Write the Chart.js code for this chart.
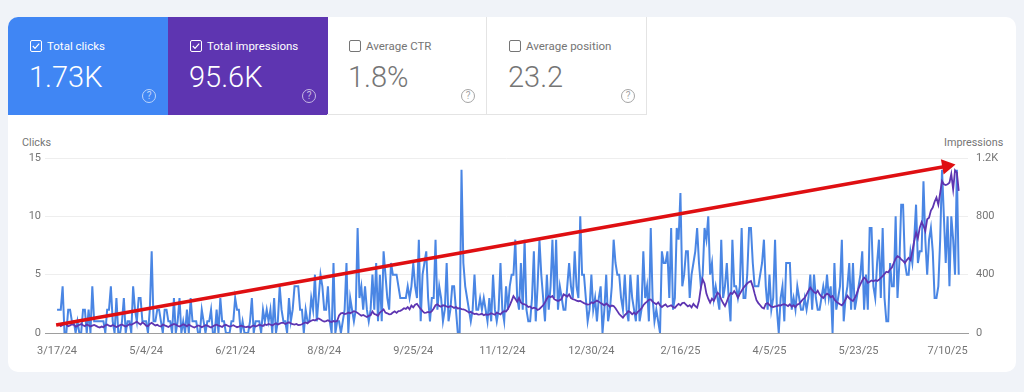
<!DOCTYPE html>
<html>
<head>
<meta charset="utf-8">
<title>Search performance</title>
<script src="https://cdn.jsdelivr.net/npm/chart.js@4/dist/chart.umd.min.js"></script>
<style>
  html, body { margin: 0; padding: 0; }
  body { width: 1024px; height: 392px; background: #f0f3f8; overflow: hidden; font-family: Roboto, sans-serif; position: relative; }
  #card { position: absolute; left: 8px; top: 17px; width: 1008px; height: 355px; background: #fff; border-radius: 10px; overflow: hidden; }
  .tab { position: absolute; top: 0; width: 160px; height: 98px; box-sizing: border-box; color: #757575; }
  .tab.plain { border-right: 1px solid #e4e4e4; border-bottom: 1px solid #e4e4e4; }
  .tab.blue { background: #4086f4; color: #fff; }
  .tab.purple { background: #5e35b1; color: #fff; }
  .tab .name { position: absolute; left: 39px; top: 22px; font-size: 11.5px; line-height: 14px; white-space: nowrap; }
  .tab .val { position: absolute; left: 21px; top: 42px; font-size: 29px; line-height: 36px; font-weight: 300; white-space: nowrap; }
  .tab svg.box { position: absolute; left: 22px; top: 23px; }
  .tab .help { position: absolute; left: 134px; top: 72px; width: 12px; height: 12px; border: 1px solid currentColor; border-radius: 50%; font-size: 10px; line-height: 12px; text-align: center; opacity: .65; }
  .axis-title { position: absolute; top: 136px; font-size: 10.8px; line-height: 13px; color: #757575; }
  #wrap { position: absolute; left: 7px; top: 126px; width: 1009px; height: 240px; }
</style>
</head>
<body>
<div id="card">
  <div class="tab blue" style="left:0">
    <svg class="box" width="12" height="12" viewBox="0 0 12 12"><rect x=".5" y=".5" width="11" height="11" rx="1.5" fill="none" stroke="#fff"/><path d="M2.8 6l2.2 2.3 4.2-4.6" fill="none" stroke="#fff" stroke-width="1.2"/></svg>
    <div class="name">Total clicks</div><div class="val">1.73K</div><div class="help">?</div>
  </div>
  <div class="tab purple" style="left:160px">
    <svg class="box" width="12" height="12" viewBox="0 0 12 12"><rect x=".5" y=".5" width="11" height="11" rx="1.5" fill="none" stroke="#fff"/><path d="M2.8 6l2.2 2.3 4.2-4.6" fill="none" stroke="#fff" stroke-width="1.2"/></svg>
    <div class="name">Total impressions</div><div class="val">95.6K</div><div class="help">?</div>
  </div>
  <div class="tab plain" style="left:319px">
    <svg class="box" width="12" height="12" viewBox="0 0 12 12"><rect x=".5" y=".5" width="11" height="11" rx="1.5" fill="none" stroke="#757575"/></svg>
    <div class="name">Average CTR</div><div class="val">1.8%</div><div class="help">?</div>
  </div>
  <div class="tab plain" style="left:479px">
    <svg class="box" width="12" height="12" viewBox="0 0 12 12"><rect x=".5" y=".5" width="11" height="11" rx="1.5" fill="none" stroke="#757575"/></svg>
    <div class="name">Average position</div><div class="val">23.2</div><div class="help">?</div>
  </div>
</div>
<div class="axis-title" style="left:22px">Clicks</div>
<div class="axis-title" style="left:944px">Impressions</div>
<div id="wrap"><canvas id="chart" width="1009" height="240"></canvas></div>

<script>
const dateTicks = ['3/17/24', '5/4/24', '6/21/24', '8/8/24', '9/25/24', '11/12/24', '12/30/24', '2/16/25', '4/5/25', '5/23/25', '7/10/25'];
const clickTicks = ['0', '5', '10', '15'];
const impressionTicks = ['0', '400', '800', '1.2K'];

// one value per day
const clicks = [
  2,2,2,4,0,0,2,2,1,1,0,1,0,0,2,2,0,2,0,4,
  1,1,1,1,1,1,0,2,2,4,1,0,3,0,0,1,3,0,1,1,0,
  4,2,1,3,3,1,1,1,0,2,7,1,1,2,2,1,0,2,2,1,
  1,0,3,0,1,3,0,1,0,2,0,3,1,1,1,0,0,2,1,0,
  1,1,2,0,0,2,0,3,1,1,0,0,0,1,1,3,2,2,0,1,
  0,0,0,1,3,0,1,1,1,0,2,1,2,1,2,0,3,0,1,4,
  2,1,1,0,3,1,2,4,4,4,2,2,0,2,1,1,3,2,5,1,
  3,5,4,2,2,4,1,0,6,0,1,1,0,1,2,6,0,3,2,1,2,
  9,3,4,2,4,2,1,2,5,2,6,1,5,1,7,5,3,2,6,5,
  5,5,4,3,3,3,3,4,3,4,6,4,3,8,1,5,6,7,3,1,
  3,3,8,2,4,3,1,2,6,1,2,4,4,2,0,0,14,6,4,3,2,
  1,2,5,2,2,3,2,3,2,1,3,1,5,2,1,2,6,2,1,4,
  2,4,5,5,8,3,2,6,2,8,2,1,1,3,7,1,4,8,5,3,
  1,5,2,4,8,3,8,2,4,3,2,2,4,6,4,3,7,4,3,10,
  5,5,3,1,2,5,2,3,1,3,4,0,2,5,1,2,4,8,6,5,
  5,3,2,5,2,1,5,3,2,1,5,1,2,7,3,4,1,9,3,1,2,
  1,0,7,6,6,7,3,9,2,3,9,8,12,4,5,7,7,3,5,6,
  7,9,6,4,5,9,8,10,5,6,3,4,3,2,8,3,4,6,3,1,
  8,4,4,3,4,9,3,3,5,9,9,6,4,4,4,5,6,8,4,2,
  5,2,3,8,2,0,3,4,1,6,6,6,2,3,2,4,3,2,2,3,2,
  3,5,2,5,3,2,2,3,4,3,5,3,4,0,6,2,3,4,8,1,
  3,4,6,2,6,2,3,4,5,7,2,5,2,9,9,4,3,6,8,3,
  9,3,1,1,6,4,4,10,3,6,11,11,6,5,5,7,6,8,11,6,7,
  7,13,8,5,8,9,7,3,3,4,8,14,10,6,10,4,10,8,5,14,
  5
];

const impressions = [
  50,62,48,55,64,58,46,52,60,57,44,49,56,61,53,47,58,52,45,50,
  55,49,42,38,44,40,52,58,50,46,55,48,41,47,54,59,50,45,52,60,
  56,63,70,78,66,58,72,64,50,46,62,70,60,52,56,48,44,58,52,47,
  41,50,56,62,57,50,44,52,60,54,46,58,50,43,38,44,52,48,40,46,
  54,50,44,38,46,52,58,50,47,41,52,56,50,44,48,53,46,40,44,50,
  47,42,40,44,37,46,52,44,50,56,52,48,60,55,62,58,52,60,66,58,
  64,70,70,62,68,74,66,60,58,62,54,55,60,68,72,66,78,84,90,86,
  94,100,92,84,78,82,88,80,76,82,78,84,120,135,138,130,132,140,136,142,
  150,146,138,128,118,124,116,110,117,122,148,130,126,118,140,150,162,140,135,128,
  130,140,148,138,150,152,160,170,165,178,162,188,176,194,200,182,165,150,138,140,
  145,140,150,168,190,197,186,180,190,188,182,176,185,180,172,178,168,170,164,162,
  158,150,140,145,136,130,133,126,128,132,122,128,124,128,136,130,125,140,134,128,
  142,150,148,165,190,220,253,235,215,240,210,200,197,190,178,182,168,174,170,158,
  165,178,190,210,235,253,245,253,232,225,220,225,235,265,258,250,265,240,232,228,
  222,218,220,212,205,200,195,197,210,205,215,222,215,205,198,190,202,192,180,188,
  185,170,150,130,118,105,122,135,150,142,128,140,128,145,155,168,190,205,215,228,
  230,215,205,197,210,190,178,188,196,180,185,190,178,172,188,200,190,205,208,195,
  182,190,175,200,185,174,220,310,368,340,270,235,208,235,220,250,276,265,230,205,
  185,215,250,275,268,288,270,242,268,290,310,325,340,350,357,320,270,225,205,190,
  174,168,200,205,192,180,178,182,185,190,188,195,198,192,185,197,180,190,178,195,
  200,215,231,240,265,290,311,295,280,272,290,265,250,240,258,270,262,245,254,230,
  215,205,197,190,205,230,255,238,228,220,240,268,305,335,360,380,368,345,352,360,
  355,362,357,365,378,390,405,420,415,437,450,480,510,527,520,505,495,480,500,515,
  500,560,630,690,650,722,760,735,700,780,790,840,860,900,929,880,960,1042,1020,1015,
  1020,1030,1090,985,1116,1100,974
];

// hand drawn red arrow on top of the screenshot, in day / clicks units
const arrowDays = [-0.5, 479.5];
const arrowClicks = [0.68, 14.3];

const DAYS_PER_TICK = 48;

function toPoints(xs, ys) {
  return ys.map((y, i) => ({x: xs ? xs[i] : i, y: y}));
}

function fixedWidth(w) {
  return (scale) => { scale.width = w; };
}

new Chart(document.getElementById('chart'), {
  type: 'line',
  data: {
    datasets: [
      {
        label: 'Trend',
        data: toPoints(arrowDays, arrowClicks),
        yAxisID: 'y',
        borderColor: '#df0f12',
        backgroundColor: '#df0f12',
        borderWidth: 3.6,
        tension: 0,
        pointStyle: [false, 'triangle'],
        pointRadius: [0, 9],
        pointBorderWidth: 0,
        pointRotation: [0, 80]
      },
      {
        label: 'Impressions',
        data: toPoints(null, impressions),
        yAxisID: 'y1',
        borderColor: '#5e35b1',
        borderWidth: 1.8,
        pointRadius: 0,
        tension: 0
      },
      {
        label: 'Clicks',
        data: toPoints(null, clicks),
        yAxisID: 'y',
        borderColor: '#4a86e4',
        borderWidth: 2,
        pointRadius: 0,
        tension: 0
      }
    ]
  },
  options: {
    responsive: false,
    animation: false,
    layout: { padding: { top: 32, left: 0, right: 0, bottom: 0 } },
    plugins: { legend: { display: false }, tooltip: { enabled: false } },
    scales: {
      x: {
        type: 'linear',
        min: -6.5,
        max: 491,
        grid: { display: false },
        border: { color: '#9e9e9e', width: 1 },
        afterBuildTicks: (axis) => { axis.ticks = dateTicks.map((_, i) => ({value: i * DAYS_PER_TICK})); },
        afterFit: (scale) => { scale.height = 33; scale.paddingLeft = 0; scale.paddingRight = 0; },
        ticks: {
          autoSkip: false,
          maxRotation: 0,
          padding: 4,
          color: '#757575',
          font: { family: 'Roboto', size: 11 },
          callback: (v) => dateTicks[v / DAYS_PER_TICK]
        }
      },
      y: {
        position: 'left',
        min: 0,
        max: 15,
        afterFit: fixedWidth(38),
        border: { display: false },
        grid: {
          drawTicks: false,
          color: (c) => c.tick.value === 0 ? '#9e9e9e' : '#eeeeee'
        },
        ticks: {
          stepSize: 5,
          padding: 4,
          color: '#757575',
          font: { family: 'Roboto', size: 11 },
          callback: (v) => clickTicks[v / 5]
        }
      },
      y1: {
        position: 'right',
        min: 0,
        max: 1200,
        afterFit: fixedWidth(48),
        border: { display: false },
        grid: { display: false, drawOnChartArea: false },
        ticks: {
          stepSize: 400,
          padding: 0,
          color: '#757575',
          font: { family: 'Roboto', size: 11 },
          callback: (v) => impressionTicks[v / 400]
        }
      }
    }
  }
});
</script>
</body>
</html>
